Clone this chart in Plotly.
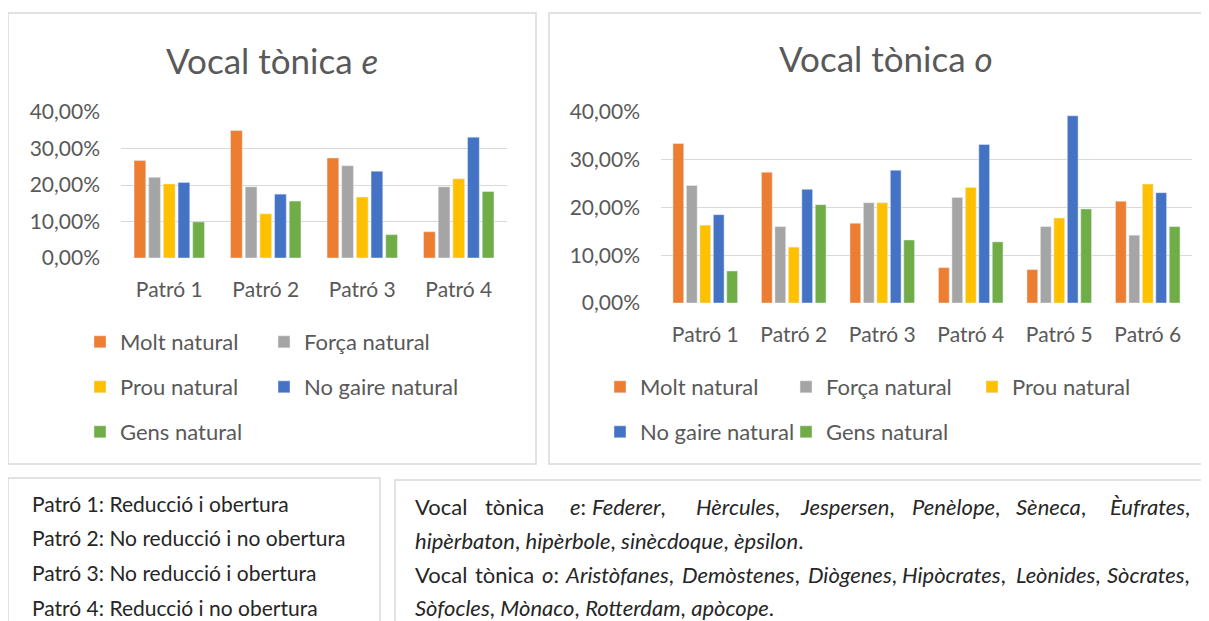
import plotly.graph_objects as go

W, H = 1209, 621
PAGE_OFFSET = 8  # the browser page adds an 8px body margin

# data
series = ["Molt natural", "Força natural", "Prou natural", "No gaire natural", "Gens natural"]
colors = ["#ED7D31", "#A5A5A5", "#FFC000", "#4472C4", "#70AD47"]

patrons_e = ["Patró 1", "Patró 2", "Patró 3", "Patró 4"]
molt_e = [0.267, 0.349, 0.274, 0.072]
forca_e = [0.221, 0.195, 0.253, 0.195]
prou_e = [0.203, 0.121, 0.167, 0.217]
nogaire_e = [0.207, 0.175, 0.238, 0.331]
gens_e = [0.099, 0.156, 0.064, 0.182]

patrons_o = ["Patró 1", "Patró 2", "Patró 3", "Patró 4", "Patró 5", "Patró 6"]
molt_o = [0.334, 0.274, 0.167, 0.074, 0.070, 0.213]
forca_o = [0.246, 0.160, 0.210, 0.221, 0.160, 0.142]
prou_o = [0.163, 0.117, 0.210, 0.242, 0.178, 0.249]
nogaire_o = [0.185, 0.238, 0.278, 0.332, 0.392, 0.231]
gens_o = [0.067, 0.206, 0.132, 0.128, 0.197, 0.160]

patro_notes = ["Patró 1: Reducció i obertura", "Patró 2: No reducció i no obertura",
               "Patró 3: No reducció i obertura", "Patró 4: Reducció i no obertura"]

FONT = "Lato"
TXT = "#595959"
GRID = "#D9D9D9"


def px(x):
    return (x - PAGE_OFFSET) / W


def py(y):
    return 1 - (y - PAGE_OFFSET) / H


fig = go.Figure()

vals_e = [molt_e, forca_e, prou_e, nogaire_e, gens_e]
vals_o = [molt_o, forca_o, prou_o, nogaire_o, gens_o]

# where each legend entry's text starts (x, row centre y) in the picture
legend_spots_e = [(117, 342), (301, 342), (117, 387), (301, 387), (117, 432)]
legend_spots_o = [(637, 387), (823, 387), (1009, 387), (637, 432), (823, 432)]

legend_layout = {}
n = 0
for (xaxis, yaxis, cats, vals, spots) in [("x", "y", patrons_e, vals_e, legend_spots_e),
                                           ("x2", "y2", patrons_o, vals_o, legend_spots_o)]:
    for name, col, v, (lx, ly) in zip(series, colors, vals, spots):
        n += 1
        key = "legend" if n == 1 else f"legend{n}"
        fig.add_trace(go.Bar(x=cats, y=v, name=name, marker_color=col,
                             xaxis=xaxis, yaxis=yaxis, legend=key))
        legend_layout[key] = dict(
            x=px(lx - 37), y=py(ly), xanchor="left", yanchor="middle",
            orientation="h", bgcolor="rgba(0,0,0,0)",
            font=dict(family=FONT, size=22, color=TXT))

axis_y = dict(range=[0, 0.4], dtick=0.1, tickformat=".2%", showgrid=True, gridcolor=GRID,
              gridwidth=1.3, zeroline=False, showline=False, ticklabelstandoff=20,
              automargin=False, tickfont=dict(family=FONT, size=21, color=TXT), fixedrange=True)
axis_x = dict(showgrid=False, showline=False, ticks="", ticklabelstandoff=17, automargin=False,
              tickfont=dict(family=FONT, size=21, color=TXT), fixedrange=True)

fig.update_layout(
    width=W, height=H,
    margin=dict(l=0, r=0, t=0, b=0, autoexpand=False),
    paper_bgcolor="white", plot_bgcolor="white",
    separators=", ",
    barmode="group", bargap=0.24, bargroupgap=0.2,
    xaxis=dict(axis_x, domain=[px(121), px(507)], anchor="y"),
    yaxis=dict(axis_y, domain=[py(258), py(112)], anchor="x"),
    xaxis2=dict(axis_x, domain=[px(661), px(1192)], anchor="y2"),
    yaxis2=dict(axis_y, domain=[py(303), py(112)], anchor="x2"),
    showlegend=True,
    **legend_layout,
)

# chart frames and text boxes
boxes = [(8, 13, 536, 464), (549, 13, 1206, 464), (8, 478, 380, 660), (395, 480, 1240, 660)]
for x0, y0, x1, y1 in boxes:
    fig.add_shape(type="rect", xref="paper", yref="paper", x0=px(x0), x1=px(x1),
                  y0=py(y1), y1=py(y0), line=dict(color=GRID, width=1.5), layer="below")

title_font = dict(family=FONT, size=35, color=TXT)
fig.add_annotation(text="Vocal tònica <i>e</i>", x=px(272), y=py(60), xref="paper", yref="paper",
                   xanchor="center", yanchor="middle", showarrow=False, font=title_font)
fig.add_annotation(text="Vocal tònica <i>o</i>", x=px(886), y=py(58), xref="paper", yref="paper",
                   xanchor="center", yanchor="middle", showarrow=False, font=title_font)


def note(text, x, y, size=21):
    fig.add_annotation(text=text, x=px(x), y=py(y), xref="paper", yref="paper",
                       xanchor="left", yanchor="middle", showarrow=False,
                       font=dict(family=FONT, size=size, color="#262626"))


for i, t in enumerate(patro_notes):
    note(t, 30, 503 + 34.7 * i)

# justified lines in the original, so their words are placed one by one
line1 = [("Vocal", 413), ("tònica", 483), ("<i>e</i>:", 568), ("<i>Federer</i>,", 590),
         ("<i>Hèrcules</i>,", 694), ("<i>Jespersen</i>,", 798), ("<i>Penèlope</i>,", 910),
         ("<i>Sèneca</i>,", 1014), ("<i>Èufrates</i>,", 1108)]
line3 = [("Vocal", 413), ("tònica", 473), ("<i>o</i>:", 540), ("<i>Aristòfanes</i>,", 563),
         ("<i>Demòstenes</i>,", 680), ("<i>Diògenes</i>,", 806), ("<i>Hipòcrates</i>,", 900),
         ("<i>Leònides</i>,", 1014), ("<i>Sòcrates</i>,", 1105)]
for w, xw in line1:
    note(w, xw, 506, 22)
for w, xw in line3:
    note(w, xw, 574, 22)
note("<i>hipèrbaton</i>, <i>hipèrbole</i>, <i>sinècdoque</i>, <i>èpsilon</i>.", 413, 540, 22)
note("<i>Sòfocles</i>, <i>Mònaco</i>, <i>Rotterdam</i>, <i>apòcope</i>.", 413, 607, 22)

fig.write_html("out.html")
